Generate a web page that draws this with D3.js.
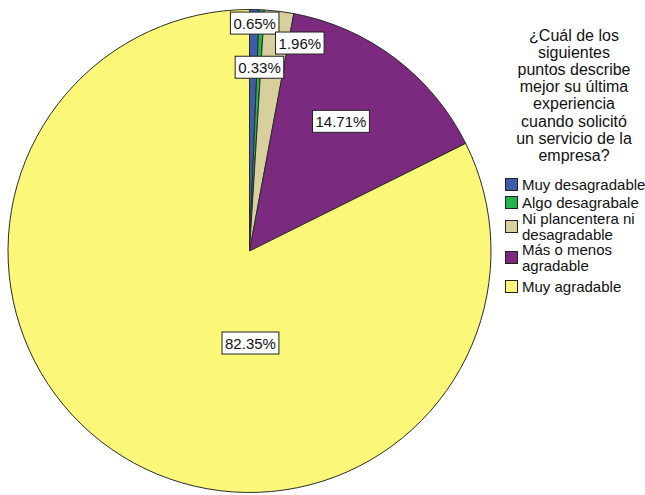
<!DOCTYPE html>
<html>
<head>
<meta charset="utf-8">
<script src="https://cdn.jsdelivr.net/npm/d3@7"></script>
<style>
  html, body { margin: 0; padding: 0; background: #fff; }
  svg { display: block; }
  text { font-family: "Liberation Sans", Arial, sans-serif; fill: #111; }
</style>
</head>
<body>
<svg id="chart" width="645" height="495"></svg>
<script>
// Responses to the satisfaction question
const categories = [
  "Muy desagradable",
  "Algo desagrabale",
  "Ni plancentera ni desagradable",
  "Más o menos agradable",
  "Muy agradable"
];
const percentages = [0.65, 0.33, 1.96, 14.71, 82.35];
const colors = ["#3f5cab", "#25b34b", "#d7d09d", "#7b2a7f", "#fbf779"];

// Legend text, wrapped as lines
const legendTitle = ["¿Cuál de los", "siguientes", "puntos describe", "mejor su última",
                     "experiencia", "cuando solicitó", "un servicio de la", "empresa?"];
const legendLines = [
  ["Muy desagradable"],
  ["Algo desagrabale"],
  ["Ni plancentera ni", "desagradable"],
  ["Más o menos", "agradable"],
  ["Muy agradable"]
];

// Label placement: angle (degrees clockwise from 12 o'clock) and radius fraction
const labelPlacement = [
  { angle: 1.3, r: 0.944 },
  { angle: 3.1, r: 0.762 },
  { angle: 13.6, r: 0.886 },
  { angle: 35.2, r: 0.657 },
  { angle: 179.4, r: 0.381 }
];

const svg = d3.select("#chart");
const cx = 249.5, cy = 251, radius = 241.5;

const rows = categories.map((c, i) => ({ category: c, value: percentages[i], color: colors[i], i }));

const pie = d3.pie().value(d => d.value).sort(null);
const arc = d3.arc().innerRadius(0).outerRadius(radius);

const g = svg.append("g").attr("transform", `translate(${cx},${cy})`);

g.selectAll("path.slice")
  .data(pie(rows))
  .join("path")
  .attr("class", "slice")
  .attr("d", arc)
  .attr("fill", d => d.data.color)
  .attr("stroke", "#2b2b2b")
  .attr("stroke-width", 1)
  .attr("stroke-linejoin", "round");

// Value labels in white boxes
const fmt = v => v.toFixed(2) + "%";
const labels = g.selectAll("g.lbl")
  .data(rows)
  .join("g")
  .attr("class", "lbl")
  .attr("transform", d => {
    const p = labelPlacement[d.i];
    const a = p.angle * Math.PI / 180;
    const rr = p.r * radius;
    return `translate(${rr * Math.sin(a)},${-rr * Math.cos(a)})`;
  });

labels.each(function(d) {
  const sel = d3.select(this);
  const t = sel.append("text")
    .attr("text-anchor", "middle")
    .attr("dominant-baseline", "central")
    .attr("font-size", 15)
    .text(fmt(d.value));
  const bb = t.node().getBBox();
  sel.insert("rect", "text")
    .attr("x", bb.x - 3)
    .attr("y", -11)
    .attr("width", bb.width + 6)
    .attr("height", 22)
    .attr("fill", "#fff")
    .attr("stroke", "#222")
    .attr("stroke-width", 1);
});

// Legend title
const titleX = 574;
svg.append("g")
  .selectAll("text")
  .data(legendTitle)
  .join("text")
  .attr("x", titleX)
  .attr("y", (d, i) => 40.5 + i * 17.2)
  .attr("text-anchor", "middle")
  .attr("font-size", 16)
  .text(d => d);

// Legend entries
const itemY = [185, 203, 227, 258, 287];
const legend = svg.append("g");
const items = legend.selectAll("g.item")
  .data(rows)
  .join("g")
  .attr("class", "item")
  .attr("transform", d => `translate(505,${itemY[d.i]})`);

items.append("rect")
  .attr("x", 0.5)
  .attr("y", -6.5)
  .attr("width", 12)
  .attr("height", 12)
  .attr("fill", d => d.color)
  .attr("stroke", "#222")
  .attr("stroke-width", 1);

items.each(function(d) {
  const lines = legendLines[d.i];
  const n = lines.length;
  d3.select(this).selectAll("text")
    .data(lines)
    .join("text")
    .attr("x", 17)
    .attr("y", (l, k) => (k - (n - 1) / 2) * 15.5 + 5)
    .attr("font-size", 15)
    .text(l => l);
});
</script>
</body>
</html>
